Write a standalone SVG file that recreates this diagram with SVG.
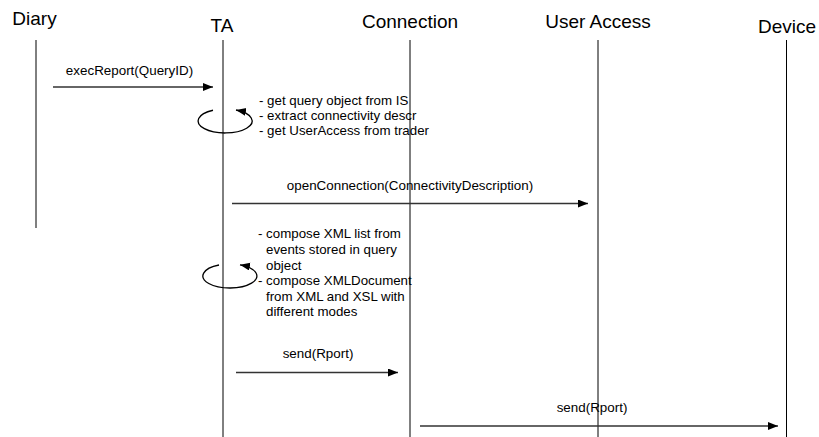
<svg xmlns="http://www.w3.org/2000/svg" width="819" height="437" viewBox="0 0 819 437">
<style>
.title{font-family:"Liberation Sans",Arial,sans-serif;font-size:19px;fill:#000;text-anchor:middle}
.lbl{font-family:"Liberation Sans",Arial,sans-serif;font-size:13.4px;fill:#000;text-anchor:middle}
.note{font-family:"Liberation Sans",Arial,sans-serif;font-size:13.3px;fill:#000}
.life{stroke:#000;stroke-width:1;fill:none}
.msg{stroke:#333;stroke-width:1.6;fill:none;marker-end:url(#ah)}
.loop{stroke:#000;stroke-width:1.3;fill:none;marker-end:url(#ah)}
</style>
<defs>
<marker id="ah" markerUnits="userSpaceOnUse" markerWidth="11" markerHeight="9" refX="10" refY="4" orient="auto">
<path d="M0,0 L10,4 L0,8 z" fill="#000"/>
</marker>
</defs>
<rect width="819" height="437" fill="#fff"/>
<g id="diary">
<text class="title" x="34.5" y="25">Diary</text>
<line class="life" x1="36" y1="40" x2="36" y2="228"/>
</g>
<g id="ta">
<text class="title" x="222" y="31.5">TA</text>
<line class="life" x1="223" y1="40" x2="223" y2="437"/>
</g>
<g id="connection">
<text class="title" x="410" y="28.3">Connection</text>
<line class="life" x1="410" y1="40" x2="410" y2="437"/>
</g>
<g id="useraccess">
<text class="title" x="598" y="28.3">User Access</text>
<line class="life" x1="598" y1="40" x2="598" y2="437"/>
</g>
<g id="device">
<text class="title" x="787" y="32.5">Device</text>
<line class="life" x1="786.5" y1="40" x2="786.5" y2="437"/>
</g>
<g id="connectors">
<line class="msg" x1="53" y1="87" x2="213" y2="87"/>
<text class="lbl" x="129.5" y="75">execReport(QueryID)</text>
<path class="loop" d="M213,110.25 A27,12 0 1,0 236,110"/>
<line class="msg" x1="232" y1="203.5" x2="588" y2="203.5"/>
<text class="lbl" x="410" y="190">openConnection(ConnectivityDescription)</text>
<path class="loop" d="M219,265 A27,12 0 1,0 240,264.85"/>
<line class="msg" x1="236" y1="372.5" x2="398" y2="372.5"/>
<text class="lbl" x="318" y="358">send(Rport)</text>
<line class="msg" x1="420" y1="426" x2="778" y2="426"/>
<text class="lbl" x="592" y="412">send(Rport)</text>
</g>
<g id="note1">
<text class="note" x="259" y="105.3">- get query object from IS</text>
<text class="note" x="259" y="120.3">- extract connectivity descr</text>
<text class="note" x="259" y="135.3">- get UserAccess from trader</text>
</g>
<g id="note2">
<text class="note" x="258" y="238.3">- compose XML list from</text>
<text class="note" x="266" y="254">events stored in query</text>
<text class="note" x="266" y="269.5">object</text>
<text class="note" x="258" y="285">- compose XMLDocument</text>
<text class="note" x="266" y="300.7">from XML and XSL with</text>
<text class="note" x="266" y="316">different modes</text>
</g>
</svg>
